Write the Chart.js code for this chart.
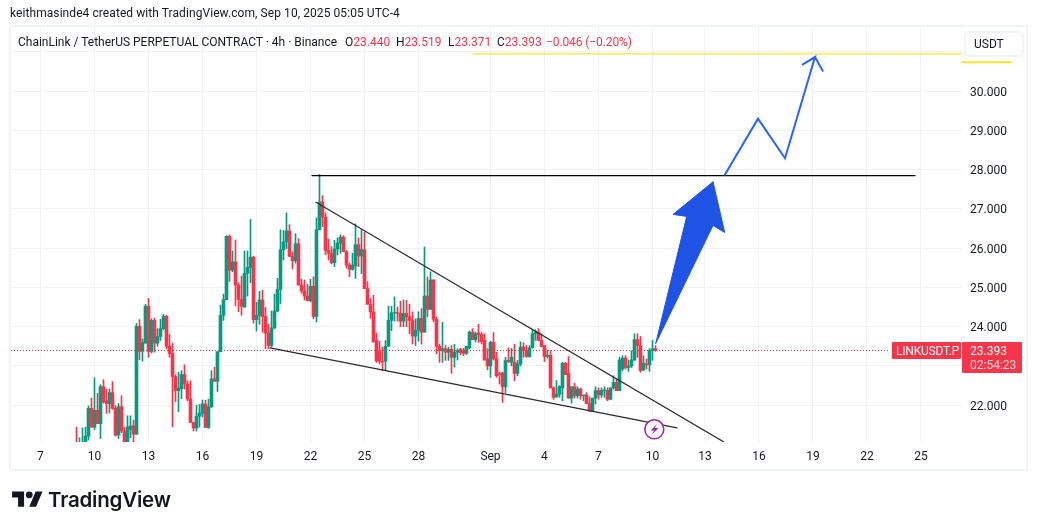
<!DOCTYPE html>
<html><head><meta charset="utf-8">
<script src="https://cdn.jsdelivr.net/npm/chart.js@4"></script>
<style>
html,body{margin:0;padding:0;background:#fff;width:1037px;height:530px;overflow:hidden;font-family:Roboto,sans-serif;color:#131722}
#c{position:absolute;left:0;top:0}
.t{position:absolute;white-space:nowrap;font-size:12px;line-height:16px}
.r{color:#f5364a}
.box{position:absolute;box-sizing:border-box}
</style></head><body>
<canvas id="c" width="1037" height="530"></canvas>
<div class="box" style="left:9px;top:25px;width:1019px;height:446px;border:2px solid #f0f3fa"></div>
<div class="t" style="left:10px;top:5px;letter-spacing:.075px">keithmasinde4 created with TradingView.com, Sep 10, 2025 05:05 UTC-4</div>
<div class="t" style="left:18px;top:34px">ChainLink / TetherUS PERPETUAL CONTRACT · 4h · Binance</div>
<div class="t" style="left:345px;top:34px">O<span class="r">23.440</span></div>
<div class="t" style="left:396px;top:34px">H<span class="r">23.519</span></div>
<div class="t" style="left:448px;top:34px">L<span class="r">23.371</span></div>
<div class="t" style="left:497px;top:34px">C<span class="r">23.393</span></div>
<div class="t r" style="left:546px;top:34px;letter-spacing:-.1px">−0.046 (−0.20%)</div>
<div class="box" style="left:964px;top:31px;width:60px;height:26px;border:2px solid #f0f3fa;border-radius:5px;background:#fff"></div>
<div class="t" style="left:974px;top:36px">USDT</div>
<div class="box" style="left:892px;top:342px;width:69px;height:17px;background:#f5364a;border-radius:1px"></div>
<div class="t" style="left:896px;top:343px;color:#fff;letter-spacing:-.2px">LINKUSDT.P</div>
<div class="box" style="left:962px;top:342px;width:60px;height:31px;background:#f5364a;border-radius:1px"></div>
<div class="t" style="left:970px;top:343px;color:#fff">23.393</div>
<div class="t" style="left:970px;top:356.5px;color:rgba(255,255,255,.8)">02:54:23</div>
<svg style="position:absolute;left:640px;top:415px" width="30" height="30" viewBox="0 0 30 30">
<circle cx="14.3" cy="14.3" r="9.5" fill="#fff" stroke="#9c27b0" stroke-width="1.6"/>
<path d="M17.5 8.5 L10.5 15.5 L14 15.5 L11.5 20 L18.5 13 L14.5 13 Z" fill="#9c27b0"/>
</svg>
<svg style="position:absolute;left:12px;top:488px" width="31" height="24" viewBox="0 0 36 28">
<path d="M14 22H7V11H0V4h14v18zM28 22h-8l7.5-18h8L28 22z" fill="#131722"/><circle cx="20" cy="8" r="4" fill="#131722"/>
</svg>
<div class="t" style="left:48px;top:487px;font:600 20.5px/26px Inter,sans-serif;color:#131722;letter-spacing:-.2px">TradingView</div>
<script>
const opens=[21.02,20.90,20.95,21.04,21.21,21.92,21.44,21.87,21.53,22.47,
22.11,22.04,22.32,21.92,21.24,21.96,21.34,21.00,21.38,21.47,
21.26,24.01,23.37,23.58,24.52,23.37,24.16,23.58,23.75,23.95,
24.26,23.50,23.32,22.73,22.37,22.42,22.78,22.54,22.16,21.56,
21.42,21.72,21.79,22.03,21.43,21.96,22.67,22.61,23.36,24.29,
24.69,26.30,25.44,25.65,25.06,24.69,24.50,25.36,25.51,25.77,
24.18,24.29,24.68,24.26,23.84,
23.52,23.97,24.40,24.95,25.96,26.16,26.44,25.79,25.68,26.11,
25.06,24.91,24.78,24.66,25.03,24.26,26.47,27.18,26.79,25.94,
25.87,25.63,25.98,26.13,26.28,25.91,25.57,25.46,25.55,26.09,
25.80,25.96,24.97,24.57,24.38,23.65,23.39,23.12,23.12,23.50,
24.16,24.35,24.36,24.34,24.14,24.34,24.25,24.16,23.76,23.91,
24.21,23.86,24.78,24.44,25.19,24.19,23.50,23.39,23.44,23.35,
23.42,23.22,23.35,
23.42,23.39,23.32,23.46,23.86,23.67,23.84,23.80,23.65,23.18,
23.00,23.60,23.18,22.79,22.82,22.47,23.14,23.09,23.09,22.81,
23.05,23.48,23.39,23.24,23.46,23.82,23.86,23.65,23.52,23.24,
23.27,22.44,22.21,22.28,22.44,23.07,22.81,22.18,22.47,22.24,
22.41,22.24,22.26,22.04,21.85,22.18,22.37,22.26,22.38,22.38,
22.15,22.44,22.58,22.37,22.92,23.20,22.96,23.00,23.15,23.67,
23.52,22.90,23.05,23.03,23.39,23.44];
const highs=[21.44,21.17,21.42,21.44,21.98,22.18,22.70,22.30,22.52,22.65,
22.41,22.41,22.60,21.99,22.04,22.24,21.43,21.73,21.73,21.62,
24.08,24.18,23.69,24.57,24.72,24.20,24.22,23.95,24.19,24.32,
24.29,23.80,23.58,22.78,22.84,22.88,23.03,22.62,22.62,21.57,
22.00,22.02,22.13,22.13,22.15,22.88,22.97,23.37,24.55,24.83,
26.32,26.34,25.93,26.21,25.12,25.29,25.93,25.93,26.73,25.80,
24.62,24.90,24.93,24.49,24.06,
24.40,24.83,25.23,26.47,26.45,26.90,26.60,25.91,26.37,26.24,
25.21,25.19,25.08,25.21,25.27,26.77,27.88,27.34,26.90,26.23,
26.04,26.20,26.26,26.34,26.32,25.94,25.62,25.87,26.62,26.26,
26.47,26.41,25.15,24.72,24.80,23.84,23.63,23.48,23.65,24.52,
24.52,24.76,24.50,24.65,24.68,24.67,24.57,24.38,24.20,24.38,
24.46,26.03,25.27,25.40,25.20,24.25,23.56,24.11,23.52,23.48,
23.52,23.55,23.44,
23.45,23.45,23.50,23.89,23.95,23.86,24.06,23.85,23.82,23.44,
23.63,23.85,23.35,22.84,22.84,23.22,23.46,23.45,23.55,23.14,
23.61,23.59,23.52,23.52,23.92,23.92,23.95,23.82,23.52,23.41,
23.39,22.47,22.63,22.50,23.09,23.09,23.24,22.47,22.56,22.47,
22.44,22.26,22.32,22.21,22.18,22.47,22.44,22.44,22.47,22.44,
22.44,22.75,22.67,23.22,23.26,23.26,23.15,23.39,23.82,23.82,
23.75,23.26,23.18,23.44,23.65,23.519];
const lows=[20.85,20.85,20.90,21.00,21.11,21.44,21.38,21.53,21.15,22.05,
21.79,21.80,21.89,21.21,21.15,21.30,20.95,20.95,21.17,21.00,
21.26,23.16,23.12,23.58,23.22,23.33,23.35,23.50,23.65,23.92,
23.44,23.22,21.45,22.09,21.83,22.17,22.41,22.11,21.56,21.34,
21.34,21.44,21.70,21.43,21.41,21.94,22.60,22.35,23.36,24.16,
24.69,25.15,25.40,24.53,24.38,24.29,24.49,24.78,25.12,24.09,
23.89,24.06,23.86,23.44,23.44,
23.48,23.95,24.38,24.59,25.70,25.99,25.79,25.47,25.62,25.06,
24.85,24.68,24.66,24.63,24.20,24.12,26.47,26.55,25.83,25.70,
25.60,25.53,25.83,25.87,25.91,25.49,25.27,25.44,25.23,25.53,
25.35,24.97,24.57,24.21,23.61,23.09,23.05,22.88,22.88,23.50,
23.90,24.14,24.14,24.00,24.00,24.00,23.82,23.56,23.52,23.63,
23.56,23.86,24.25,24.44,24.12,23.31,23.09,23.09,23.14,23.14,
22.81,22.97,23.15,
23.28,23.26,23.29,23.44,23.67,23.61,23.60,23.56,23.15,22.90,
22.71,23.15,22.71,22.54,22.07,22.32,23.09,23.00,22.62,22.75,
23.00,23.22,23.22,23.22,23.46,23.65,23.65,23.48,23.11,23.20,
22.44,22.15,22.20,22.20,22.11,22.78,22.18,22.05,22.18,22.18,
22.15,22.11,22.04,21.85,21.85,22.03,22.15,22.20,22.20,22.11,
22.15,22.41,22.37,22.37,22.88,22.92,22.86,22.96,23.14,23.22,
22.84,22.88,22.92,22.86,23.14,23.371];
const closes=[20.90,21.00,21.04,21.21,21.92,21.44,21.87,21.53,22.47,22.09,
22.04,22.32,21.92,21.24,21.96,21.34,20.98,21.44,21.47,21.26,
24.01,23.37,23.60,24.52,23.37,24.16,23.58,23.75,23.95,24.26,
23.50,23.32,22.73,22.37,22.44,22.78,22.54,22.16,21.56,21.42,
21.72,21.80,22.03,21.43,21.96,22.67,22.61,23.36,24.29,24.69,
26.30,25.44,25.65,25.06,24.69,24.52,25.36,25.51,25.77,24.18,
24.29,24.68,24.26,23.84,23.52,
23.97,24.40,24.95,25.96,26.16,26.44,25.79,25.68,26.11,25.06,
24.91,24.78,24.66,25.03,24.26,26.47,27.18,26.79,25.94,25.87,
25.63,25.98,26.13,26.28,25.91,25.57,25.46,25.57,26.09,25.80,
25.96,24.97,24.57,24.38,23.61,23.12,23.12,23.10,23.50,24.16,
24.35,24.36,24.34,24.14,24.34,24.25,24.16,23.76,23.91,24.21,
23.86,24.78,24.44,25.19,24.19,23.50,23.39,23.44,23.35,23.42,
23.22,23.35,23.39,
23.34,23.32,23.50,23.86,23.67,23.82,23.80,23.62,23.15,23.00,
23.60,23.18,22.75,22.78,22.47,23.14,23.11,23.22,22.81,23.05,
23.48,23.39,23.24,23.46,23.82,23.86,23.65,23.50,23.24,23.27,
22.44,22.20,22.28,22.47,23.07,22.78,22.18,22.47,22.24,22.41,
22.24,22.26,22.04,21.85,22.18,22.37,22.26,22.38,22.39,22.15,
22.44,22.58,22.37,23.15,23.20,22.96,23.00,23.15,23.67,23.52,
22.88,23.07,23.03,23.39,23.44,23.393];

// axis ticks (x in 4h-bar numbers)
const dayTicks=[-12,6,24,42,60,78,96,114,138,156,174,192,209.5,227.5,245.5,263.5,281.5];
const dayLabels=['7','10','13','16','19','22','25','28','Sep','4','7','10','13','16','19','22','25'];
const priceTicks=[22,23,24,25,26,27,28,29,30,31];
const lastPrice=23.393;

// drawings, in bar number / price
const resistance=[{x:78.5,y:27.85},{x:279.5,y:27.85}];
const upperTrend=[{x:79.83,y:27.17},{x:215.83,y:21.06}];
const lowerTrend=[{x:64.5,y:23.46},{x:200.17,y:21.42}];
const targetLine=[{x:132.17,y:30.95},{x:295.17,y:30.95}];
const targetMark=[{x:295.17,y:30.74},{x:311.5,y:30.74}];
const pricePath=[{x:216.17,y:27.88},{x:227.17,y:29.30},{x:236.17,y:28.29},{x:246.17,y:30.87},{x:241.83,y:30.67},{x:246.17,y:30.87},{x:248.73,y:30.52}];
const bigArrow=[{x:212.17,y:27.69},{x:198.83,y:26.86},{x:203.4,y:26.81},{x:193.07,y:23.57},{x:212.17,y:26.58},{x:216.07,y:26.40},{x:212.17,y:27.69}];
const lastLine=[{x:-21.83,y:lastPrice},{x:271.17,y:lastPrice}];

const GREEN='#089981',RED='#f5364a',GRID='#f0f1f5';
const cols=closes.map((c,i)=>c>=opens[i]?GREEN:RED);
const line=(data,color,width,order,extra)=>Object.assign({type:'line',data,borderColor:color,borderWidth:width,pointRadius:0,tension:0,order,fill:false,borderCapStyle:'round'},extra||{});
new Chart(document.getElementById('c'),{
 type:'bar',
 data:{datasets:[
  line(lastLine,RED,1,9,{borderDash:[1,2],borderCapStyle:'butt'}),
  {type:'bar',data:highs.map((h,i)=>({x:i,y:[lows[i],h]})),backgroundColor:cols,maxBarThickness:1,barPercentage:1,categoryPercentage:1,grouped:false,order:8,borderWidth:0},
  {type:'bar',data:opens.map((o,i)=>({x:i,y:[o,closes[i]]})),backgroundColor:cols,maxBarThickness:3,barPercentage:1,categoryPercentage:1,grouped:false,order:7,borderWidth:0},
  line(resistance,'#000',1.3,3),
  line(upperTrend,'#2a2a2e',1.2,3),
  line(lowerTrend,'#2a2a2e',1.2,3),
  line(targetLine,'#fbe32d',1.3,3),
  line(targetMark,'#fbe32d',2,3,{clip:false}),
  line(pricePath,'#2962ff',2,2),
  line(bigArrow,'#1f53e6',1,1,{fill:'shape',backgroundColor:'#1f53e6'})
 ]},
 options:{
  responsive:false,animation:false,events:[],
  layout:{padding:{left:11,top:27,right:0,bottom:0}},
  plugins:{legend:{display:false},tooltip:{enabled:false},title:{display:false}},
  scales:{
   x:{type:'linear',position:'bottom',offset:false,min:-21.83,max:295.17,
    grid:{color:GRID,lineWidth:1,drawTicks:false,offset:false},border:{display:false},
    afterBuildTicks:s=>{s.ticks=dayTicks.map(v=>({value:v}));},
    afterFit:s=>{s.height=88;},
    ticks:{autoSkip:false,maxRotation:0,padding:8,color:'#131722',font:{family:'Roboto',size:12},
     callback:v=>dayLabels[dayTicks.indexOf(v)]}},
   y:{type:'linear',position:'right',min:21.062,max:31.635,
    grid:{color:GRID,lineWidth:1,drawTicks:false},border:{display:false},
    afterBuildTicks:s=>{s.ticks=priceTicks.map(v=>({value:v}));},
    afterFit:s=>{s.width=75;},
    ticks:{autoSkip:false,padding:8,labelOffset:1.5,color:'#131722',font:{family:'Roboto',size:12},
     callback:v=>v===31?'':v.toFixed(3)}}
  }
 }
});
</script>
</body></html>
